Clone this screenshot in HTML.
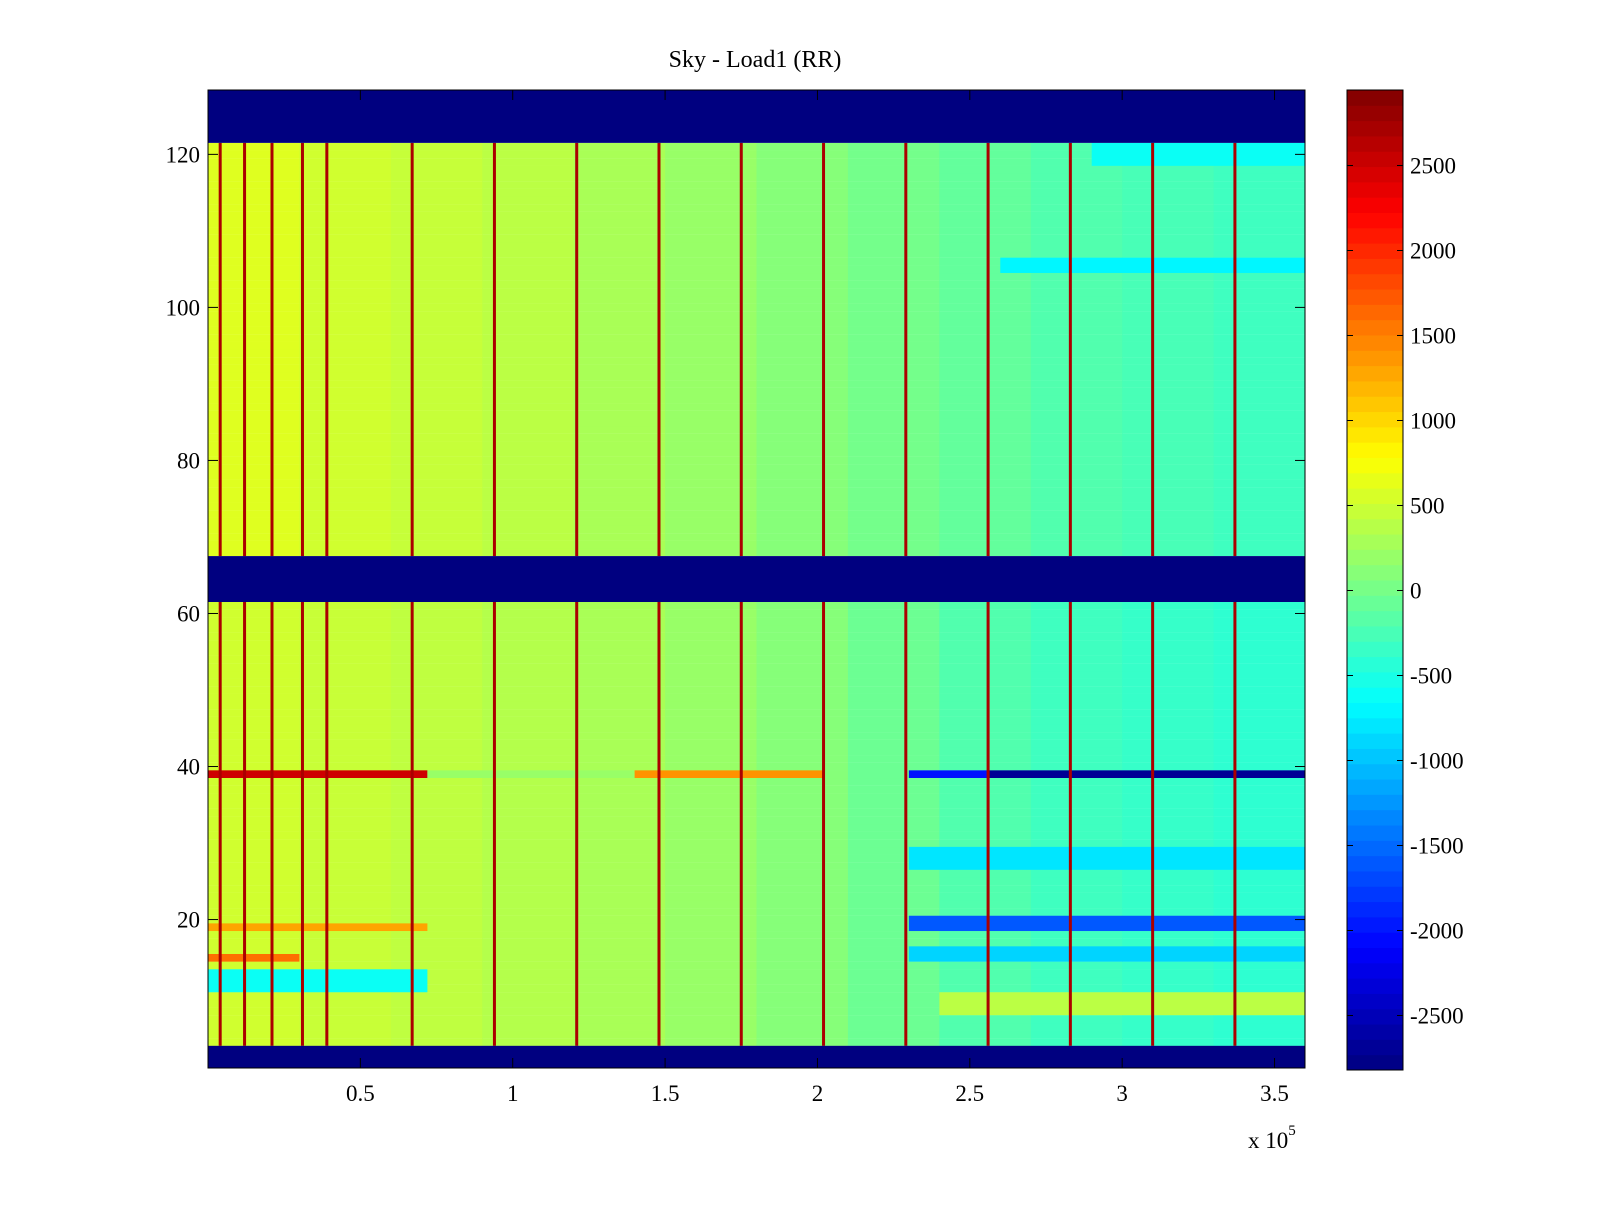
<!DOCTYPE html>
<html><head><meta charset="utf-8"><style>
body{margin:0;background:#fff;}
svg text{font-family:"Liberation Serif",serif;}
</style></head><body>
<svg id="chart" width="1600" height="1200" xmlns="http://www.w3.org/2000/svg">
<rect width="1600" height="1200" fill="#fff"/>
<text x="755" y="67" font-size="24" text-anchor="middle">Sky - Load1 (RR)</text>
<g id="plot"></g>
<g id="axes"></g>
<g id="cbar"></g>
<text x="1248" y="1148" font-size="23">x 10<tspan font-size="15" dy="-13">5</tspan></text>
</svg>
<script>
// ---- data ----
const xTicks=[0.5,1,1.5,2,2.5,3,3.5];
const yTicks=[20,40,60,80,100,120];
const cTicks=[-2500,-2000,-1500,-1000,-500,0,500,1000,1500,2000,2500];
// time trend (value per 0.3e5 segment, 12 segments)
const trendUpper=[600,520,460,400,300,200,100,0,-100,-200,-250,-300];
const trendLower=[520,470,420,360,300,200,100,-50,-200,-300,-350,-400];
// spike columns (x, in 1e5 units)
const spikes=[0.04,0.12,0.21,0.31,0.39,0.67,0.94,1.21,1.48,1.75,2.02,2.29,2.56,2.83,3.10,3.37];
const spikeValue=2700;
// masked (empty) row ranges
const maskRows=[[0.5,3.5],[61.5,67.5],[121.5,128.5]];
// row band overrides: [rowStart,rowEnd,xStart,xEnd,value]
const bands=[
 [38.5,39.5,0,0.72,2500],[38.5,39.5,0.72,1.4,200],[38.5,39.5,1.4,2.02,1400],
 [38.5,39.5,2.3,2.56,-2000],[38.5,39.5,2.56,3.6,-2700],
 [18.5,20.5,2.3,3.6,-1600],[14.5,16.5,2.3,3.6,-900],[26.5,29.5,2.3,3.6,-800],
 [10.5,13.5,0,0.72,-600],[7.5,10.5,2.4,3.6,400],[18.5,19.5,0,0.72,1300],
 [14.5,15.5,0,0.3,1600],[104.5,106.5,2.6,3.6,-700],[118.5,121.5,2.9,3.6,-600]
];
const vmin=-2819,vmax=2945;
// ---- axes ----
const X0=208,X1=1305,Y0=90,Y1=1068;
const xs=v=>X0+v*(X1-X0)/3.6;
const ys=v=>1072.6-v*7.652;
const cs=v=>590.5-v*0.17;
function jet(v){let t=(v-vmin)/(vmax-vmin);t=Math.max(0,Math.min(1,t));
 const f=x=>Math.max(0,Math.min(1,x));
 const r=f(Math.min(4*t-1.5,-4*t+4.5)),g=f(Math.min(4*t-0.5,-4*t+3.5)),b=f(Math.min(4*t+0.5,-4*t+2.5));
 return `rgb(${Math.round(r*255)},${Math.round(g*255)},${Math.round(b*255)})`;}
const NS='http://www.w3.org/2000/svg';
function mk(tag,attrs,parent){const e=document.createElementNS(NS,tag);for(const k in attrs)e.setAttribute(k,attrs[k]);parent.appendChild(e);return e;}
const plot=document.getElementById('plot');
const seg=3.6/trendUpper.length;
for(let r=1;r<=128;r++){
 if(maskRows.some(m=>r>m[0]&&r<m[1]))continue;
 const tr=r>64?trendUpper:trendLower;
 for(let i=0;i<tr.length;i++){
  const e=mk('rect',{x:xs(i*seg),y:ys(r+0.5),width:xs(seg)-X0+0.5,height:7.8,fill:jet(tr[i])},plot);
  
  
 }
}
bands.forEach(b=>{
 const e=mk('rect',{x:xs(b[2]),y:ys(b[1]),width:xs(b[3])-xs(b[2]),height:ys(b[0])-ys(b[1]),fill:jet(b[4])},plot);
 
 
});
spikes.forEach(s=>{
 [[3.5,61.5],[67.5,121.5]].forEach(rg=>{
  const e=mk('rect',{x:xs(s)-1.5,y:ys(rg[1]),width:3,height:ys(rg[0])-ys(rg[1]),fill:jet(spikeValue)},plot);
  
  
 });
});
maskRows.forEach(m=>{
 const top=Math.max(Y0,ys(m[1])),bot=Math.min(Y1,ys(m[0]));
 const e=mk('rect',{x:X0,y:top,width:X1-X0,height:bot-top,fill:jet(vmin)},plot);
 
 
});
const ax=document.getElementById('axes');
mk('rect',{x:X0,y:Y0,width:X1-X0,height:Y1-Y0,fill:'none',stroke:'#000','stroke-width':1},ax);
xTicks.forEach(t=>{const x=xs(t);
 mk('line',{x1:x,y1:Y1,x2:x,y2:Y1-10,stroke:'#000'},ax);mk('line',{x1:x,y1:Y0,x2:x,y2:Y0+10,stroke:'#000'},ax);
 const e=mk('text',{x:x,y:1101,'font-size':23,'text-anchor':'middle'},ax);e.textContent=t;
 });
yTicks.forEach(t=>{const y=ys(t);
 mk('line',{x1:X0,y1:y,x2:X0+10,y2:y,stroke:'#000'},ax);mk('line',{x1:X1,y1:y,x2:X1-10,y2:y,stroke:'#000'},ax);
 const e=mk('text',{x:200,y:y+8,'font-size':23,'text-anchor':'end'},ax);e.textContent=t;
 });
const cb=document.getElementById('cbar');
const CX=1347,CW=56,n=64,CY0=90,CY1=1070;
for(let i=0;i<n;i++){const y0=CY1-(CY1-CY0)*i/n,y1=CY1-(CY1-CY0)*(i+1)/n;
 const v=vmin+(vmax-vmin)*(i+0.5)/n;
 mk('rect',{x:CX,y:y1,width:CW,height:y0-y1+0.5,fill:jet(v)},cb);}
mk('rect',{x:CX,y:CY0,width:CW,height:CY1-CY0,fill:'none',stroke:'#000'},cb);
cTicks.forEach(t=>{const y=cs(t);
 mk('line',{x1:CX,y1:y,x2:CX+6,y2:y,stroke:'#000'},cb);mk('line',{x1:CX+CW,y1:y,x2:CX+CW-6,y2:y,stroke:'#000'},cb);
 const e=mk('text',{x:1410,y:y+8,'font-size':23},cb);e.textContent=t;
 });
</script>
</body></html>
